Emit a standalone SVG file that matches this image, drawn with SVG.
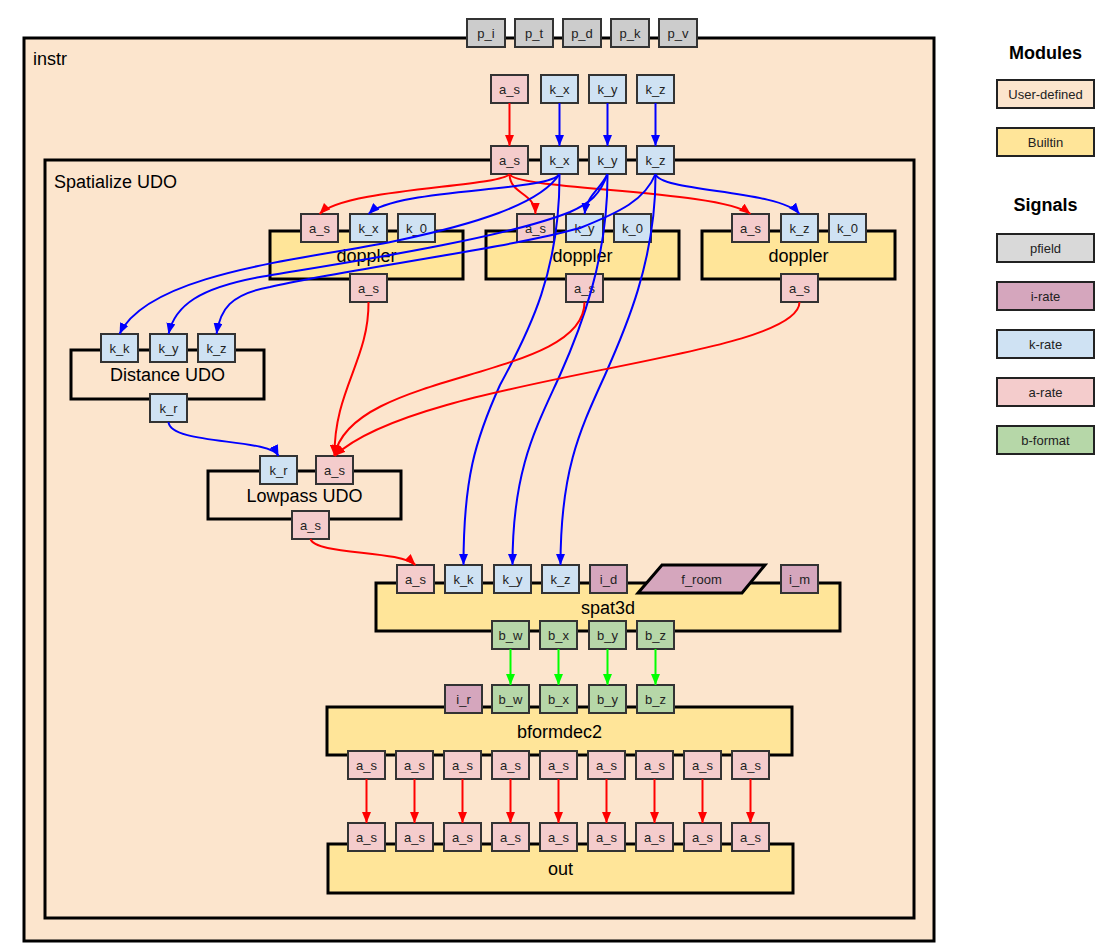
<svg xmlns="http://www.w3.org/2000/svg" width="1120" height="943" viewBox="0 0 1120 943">
  <style>
    .udo{fill:#fce5cd;stroke:#000;stroke-width:3}
    .mod{fill:#ffe599;stroke:#000;stroke-width:3}
    .port{stroke:#333;stroke-width:2}
    .p{fill:#cccccc}.i{fill:#d5a6bd}.k{fill:#cfe2f3}.a{fill:#f4cccc}.b{fill:#b6d7a8}
    .pl{font-family:"Liberation Sans",Arial,sans-serif;font-size:13px;text-anchor:middle;fill:#222}
    .ml{font-family:"Liberation Sans",Arial,sans-serif;font-size:18px;text-anchor:middle;fill:#000}
    .tl{font-family:"Liberation Sans",Arial,sans-serif;font-size:18px;fill:#000}
    .lh{font-family:"Liberation Sans",Arial,sans-serif;font-size:18px;font-weight:bold;text-anchor:middle;fill:#000}
    .lg{stroke:#222;stroke-width:2}
    .e{fill:none;stroke-width:2}
    .r{stroke:#ff0000}.bl{stroke:#0000ff}.g{stroke:#00ff00}
  </style>
  <defs>
    <marker id="ar" markerUnits="userSpaceOnUse" markerWidth="12" markerHeight="9" refX="11" refY="4.5" orient="auto">
      <path d="M0,0 L11,4.5 L0,9 z" fill="#ff0000"/>
    </marker>
    <marker id="ab" markerUnits="userSpaceOnUse" markerWidth="12" markerHeight="9" refX="11" refY="4.5" orient="auto">
      <path d="M0,0 L11,4.5 L0,9 z" fill="#0000ff"/>
    </marker>
    <marker id="ag" markerUnits="userSpaceOnUse" markerWidth="12" markerHeight="9" refX="11" refY="4.5" orient="auto">
      <path d="M0,0 L11,4.5 L0,9 z" fill="#00ff00"/>
    </marker>
  </defs>

  <!-- instrument container with its pfields and inputs -->
  <g id="instr">
    <rect class="udo" x="24" y="38" width="910" height="903"/>
    <text class="tl" x="33" y="65">instr</text>
    <rect class="port p" x="467" y="19" width="38" height="28"/><text class="pl" x="486" y="37.5">p_i</text>
    <rect class="port p" x="515" y="19" width="38" height="28"/><text class="pl" x="534" y="37.5">p_t</text>
    <rect class="port p" x="563" y="19" width="38" height="28"/><text class="pl" x="582" y="37.5">p_d</text>
    <rect class="port p" x="611" y="19" width="38" height="28"/><text class="pl" x="630" y="37.5">p_k</text>
    <rect class="port p" x="659" y="19" width="38" height="28"/><text class="pl" x="678" y="37.5">p_v</text>
  </g>
  <g id="instr-inputs">
    <rect class="port a" x="491" y="75" width="37" height="28"/><text class="pl" x="509.5" y="93.5">a_s</text>
    <rect class="port k" x="541" y="75" width="37" height="28"/><text class="pl" x="559.5" y="93.5">k_x</text>
    <rect class="port k" x="589" y="75" width="37" height="28"/><text class="pl" x="607.5" y="93.5">k_y</text>
    <rect class="port k" x="637" y="75" width="37" height="28"/><text class="pl" x="655.5" y="93.5">k_z</text>
  </g>

  <!-- Spatialize UDO container -->
  <g id="spatialize">
    <rect class="udo" x="45" y="160" width="869" height="758"/>
    <text class="tl" x="54" y="188">Spatialize UDO</text>
    <rect class="port a" x="491" y="146" width="37" height="28"/><text class="pl" x="509.5" y="164.5">a_s</text>
    <rect class="port k" x="541" y="146" width="37" height="28"/><text class="pl" x="559.5" y="164.5">k_x</text>
    <rect class="port k" x="589" y="146" width="37" height="28"/><text class="pl" x="607.5" y="164.5">k_y</text>
    <rect class="port k" x="637" y="146" width="37" height="28"/><text class="pl" x="655.5" y="164.5">k_z</text>
  </g>

  <g id="doppler1">
    <rect class="mod" x="270" y="231" width="193" height="48"/>
    <text class="ml" x="366.5" y="261.5">doppler</text>
    <rect class="port a" x="301" y="214" width="37" height="28"/><text class="pl" x="319.5" y="232.5">a_s</text>
    <rect class="port k" x="350" y="214" width="37" height="28"/><text class="pl" x="368.5" y="232.5">k_x</text>
    <rect class="port k" x="398" y="214" width="37" height="28"/><text class="pl" x="416.5" y="232.5">k_0</text>
    <rect class="port a" x="350" y="274" width="37" height="28"/><text class="pl" x="368.5" y="292.5">a_s</text>
  </g>
  <g id="doppler2">
    <rect class="mod" x="486" y="231" width="193" height="48"/>
    <text class="ml" x="582.5" y="261.5">doppler</text>
    <rect class="port a" x="517" y="214" width="37" height="28"/><text class="pl" x="535.5" y="232.5">a_s</text>
    <rect class="port k" x="566" y="214" width="37" height="28"/><text class="pl" x="584.5" y="232.5">k_y</text>
    <rect class="port k" x="614" y="214" width="37" height="28"/><text class="pl" x="632.5" y="232.5">k_0</text>
    <rect class="port a" x="566" y="274" width="37" height="28"/><text class="pl" x="584.5" y="292.5">a_s</text>
  </g>
  <g id="doppler3">
    <rect class="mod" x="702" y="231" width="193" height="48"/>
    <text class="ml" x="798.5" y="261.5">doppler</text>
    <rect class="port a" x="732" y="214" width="37" height="28"/><text class="pl" x="750.5" y="232.5">a_s</text>
    <rect class="port k" x="781" y="214" width="37" height="28"/><text class="pl" x="799.5" y="232.5">k_z</text>
    <rect class="port k" x="829" y="214" width="37" height="28"/><text class="pl" x="847.5" y="232.5">k_0</text>
    <rect class="port a" x="781" y="274" width="37" height="28"/><text class="pl" x="799.5" y="292.5">a_s</text>
  </g>

  <g id="distance">
    <rect class="udo" x="71" y="350" width="193" height="49"/>
    <text class="ml" x="167.5" y="381">Distance UDO</text>
    <rect class="port k" x="101" y="334" width="37" height="28"/><text class="pl" x="119.5" y="352.5">k_k</text>
    <rect class="port k" x="150" y="334" width="37" height="28"/><text class="pl" x="168.5" y="352.5">k_y</text>
    <rect class="port k" x="198" y="334" width="37" height="28"/><text class="pl" x="216.5" y="352.5">k_z</text>
    <rect class="port k" x="150" y="394" width="37" height="28"/><text class="pl" x="168.5" y="412.5">k_r</text>
  </g>

  <g id="lowpass">
    <rect class="udo" x="208" y="471" width="193" height="48"/>
    <text class="ml" x="304.5" y="502">Lowpass UDO</text>
    <rect class="port k" x="260" y="456" width="37" height="28"/><text class="pl" x="278.5" y="474.5">k_r</text>
    <rect class="port a" x="316" y="456" width="37" height="28"/><text class="pl" x="334.5" y="474.5">a_s</text>
    <rect class="port a" x="292" y="511" width="37" height="28"/><text class="pl" x="310.5" y="529.5">a_s</text>
  </g>

  <g id="spat3d">
    <rect class="mod" x="376" y="583" width="464" height="48"/>
    <text class="ml" x="608" y="613.5">spat3d</text>
    <rect class="port a" x="397" y="565" width="37" height="28"/><text class="pl" x="415.5" y="583.5">a_s</text>
    <rect class="port k" x="445" y="565" width="37" height="28"/><text class="pl" x="463.5" y="583.5">k_k</text>
    <rect class="port k" x="494" y="565" width="37" height="28"/><text class="pl" x="512.5" y="583.5">k_y</text>
    <rect class="port k" x="542" y="565" width="37" height="28"/><text class="pl" x="560.5" y="583.5">k_z</text>
    <rect class="port i" x="590" y="565" width="37" height="28"/><text class="pl" x="608.5" y="583.5">i_d</text>
    <polygon points="638,593 662,565 765,565 742,593" fill="#d5a6bd" stroke="#000" stroke-width="3"/>
    <text class="pl" x="701.5" y="583.5">f_room</text>
    <rect class="port i" x="781" y="565" width="37" height="28"/><text class="pl" x="799.5" y="583.5">i_m</text>
    <rect class="port b" x="492" y="621" width="37" height="28"/><text class="pl" x="510.5" y="639.5">b_w</text>
    <rect class="port b" x="540" y="621" width="37" height="28"/><text class="pl" x="558.5" y="639.5">b_x</text>
    <rect class="port b" x="589" y="621" width="37" height="28"/><text class="pl" x="607.5" y="639.5">b_y</text>
    <rect class="port b" x="637" y="621" width="37" height="28"/><text class="pl" x="655.5" y="639.5">b_z</text>
  </g>

  <g id="bformdec2">
    <rect class="mod" x="327" y="707" width="465" height="48"/>
    <text class="ml" x="559.5" y="737.5">bformdec2</text>
    <rect class="port i" x="445" y="685" width="37" height="28"/><text class="pl" x="463.5" y="703.5">i_r</text>
    <rect class="port b" x="492" y="685" width="37" height="28"/><text class="pl" x="510.5" y="703.5">b_w</text>
    <rect class="port b" x="540" y="685" width="37" height="28"/><text class="pl" x="558.5" y="703.5">b_x</text>
    <rect class="port b" x="589" y="685" width="37" height="28"/><text class="pl" x="607.5" y="703.5">b_y</text>
    <rect class="port b" x="637" y="685" width="37" height="28"/><text class="pl" x="655.5" y="703.5">b_z</text>
    <rect class="port a" x="348" y="751" width="37" height="28"/><text class="pl" x="366.5" y="769.5">a_s</text>
    <rect class="port a" x="396" y="751" width="37" height="28"/><text class="pl" x="414.5" y="769.5">a_s</text>
    <rect class="port a" x="444" y="751" width="37" height="28"/><text class="pl" x="462.5" y="769.5">a_s</text>
    <rect class="port a" x="492" y="751" width="37" height="28"/><text class="pl" x="510.5" y="769.5">a_s</text>
    <rect class="port a" x="540" y="751" width="37" height="28"/><text class="pl" x="558.5" y="769.5">a_s</text>
    <rect class="port a" x="588" y="751" width="37" height="28"/><text class="pl" x="606.5" y="769.5">a_s</text>
    <rect class="port a" x="636" y="751" width="37" height="28"/><text class="pl" x="654.5" y="769.5">a_s</text>
    <rect class="port a" x="684" y="751" width="37" height="28"/><text class="pl" x="702.5" y="769.5">a_s</text>
    <rect class="port a" x="732" y="751" width="37" height="28"/><text class="pl" x="750.5" y="769.5">a_s</text>
  </g>

  <g id="out">
    <rect class="mod" x="328" y="844" width="465" height="49"/>
    <text class="ml" x="560.5" y="875">out</text>
    <rect class="port a" x="348" y="823" width="37" height="28"/><text class="pl" x="366.5" y="841.5">a_s</text>
    <rect class="port a" x="396" y="823" width="37" height="28"/><text class="pl" x="414.5" y="841.5">a_s</text>
    <rect class="port a" x="444" y="823" width="37" height="28"/><text class="pl" x="462.5" y="841.5">a_s</text>
    <rect class="port a" x="492" y="823" width="37" height="28"/><text class="pl" x="510.5" y="841.5">a_s</text>
    <rect class="port a" x="540" y="823" width="37" height="28"/><text class="pl" x="558.5" y="841.5">a_s</text>
    <rect class="port a" x="588" y="823" width="37" height="28"/><text class="pl" x="606.5" y="841.5">a_s</text>
    <rect class="port a" x="636" y="823" width="37" height="28"/><text class="pl" x="654.5" y="841.5">a_s</text>
    <rect class="port a" x="684" y="823" width="37" height="28"/><text class="pl" x="702.5" y="841.5">a_s</text>
    <rect class="port a" x="732" y="823" width="37" height="28"/><text class="pl" x="750.5" y="841.5">a_s</text>
  </g>

  <!-- signal connections -->
  <g id="connectors">
    <!-- instr inputs into the UDO -->
    <path class="e r" marker-end="url(#ar)" d="M509.5,103 L509.5,146"/>
    <path class="e bl" marker-end="url(#ab)" d="M559.5,103 L559.5,146"/>
    <path class="e bl" marker-end="url(#ab)" d="M607.5,103 L607.5,146"/>
    <path class="e bl" marker-end="url(#ab)" d="M655.5,103 L655.5,146"/>

    <!-- audio into the doppler stages -->
    <path class="e r" marker-end="url(#ar)" d="M509.5,174 C500,187 345,188 319.5,214"/>
    <path class="e r" marker-end="url(#ar)" d="M509.5,174 C510,195 535,192 535.5,214"/>
    <path class="e r" marker-end="url(#ar)" d="M509.5,174 C515,190 720,190 750.5,214"/>

    <!-- coordinates into the doppler stages -->
    <path class="e bl" marker-end="url(#ab)" d="M559.5,174 C550,192 395,188 368.5,214"/>
    <path class="e bl" marker-end="url(#ab)" d="M607.5,174 C600,190 587,195 584.5,214"/>
    <path class="e bl" marker-end="url(#ab)" d="M655.5,174 C660,192 780,190 799.5,214"/>

    <!-- coordinates into the distance UDO -->
    <path class="e bl" marker-end="url(#ab)" d="M559.5,174 C540,205 470,225 400,240 C320,258 150,270 119.5,334"/>
    <path class="e bl" marker-end="url(#ab)" d="M607.5,174 C600,195 590,203 570,212 C500,240 330,265 260,277 C200,288 175,305 168.5,334"/>
    <path class="e bl" marker-end="url(#ab)" d="M655.5,174 C645,200 620,212 580,228 C500,250 340,270 270,287 C230,294 220,310 216.5,334"/>

    <!-- coordinates into spat3d -->
    <path class="e bl" marker-end="url(#ab)" d="M559.5,174 C560,270 530,330 500,385 C475,440 463.5,480 463.5,565"/>
    <path class="e bl" marker-end="url(#ab)" d="M607.5,174 C608,260 580,330 560,375 C535,430 512.5,470 512.5,565"/>
    <path class="e bl" marker-end="url(#ab)" d="M655.5,174 C656,260 625,330 605,375 C580,430 560.5,470 560.5,565"/>

    <!-- doppler outputs summed into the lowpass -->
    <path class="e r" marker-end="url(#ar)" d="M368.5,302 C369,360 334,390 334.5,456"/>
    <path class="e r" marker-end="url(#ar)" d="M584.5,302 C585,380 350,370 334.5,456"/>
    <path class="e r" marker-end="url(#ar)" d="M799.5,302 C800,360 420,375 334.5,456"/>

    <!-- distance to lowpass, lowpass to spat3d -->
    <path class="e bl" marker-end="url(#ab)" d="M168.5,422 C170,445 270,438 278.5,456"/>
    <path class="e r" marker-end="url(#ar)" d="M310.5,539 C315,555 400,550 415.5,565"/>

    <!-- b-format bus -->
    <path class="e g" marker-end="url(#ag)" d="M510.5,649 L510.5,685"/>
    <path class="e g" marker-end="url(#ag)" d="M558.5,649 L558.5,685"/>
    <path class="e g" marker-end="url(#ag)" d="M607.5,649 L607.5,685"/>
    <path class="e g" marker-end="url(#ag)" d="M655.5,649 L655.5,685"/>

    <!-- decoded speaker feeds -->
    <path class="e r" marker-end="url(#ar)" d="M366.5,779 L366.5,823"/>
    <path class="e r" marker-end="url(#ar)" d="M414.5,779 L414.5,823"/>
    <path class="e r" marker-end="url(#ar)" d="M462.5,779 L462.5,823"/>
    <path class="e r" marker-end="url(#ar)" d="M510.5,779 L510.5,823"/>
    <path class="e r" marker-end="url(#ar)" d="M558.5,779 L558.5,823"/>
    <path class="e r" marker-end="url(#ar)" d="M606.5,779 L606.5,823"/>
    <path class="e r" marker-end="url(#ar)" d="M654.5,779 L654.5,823"/>
    <path class="e r" marker-end="url(#ar)" d="M702.5,779 L702.5,823"/>
    <path class="e r" marker-end="url(#ar)" d="M750.5,779 L750.5,823"/>
  </g>

  <!-- legend -->
  <g id="legend">
    <text class="lh" x="1045.5" y="59">Modules</text>
    <rect class="lg" x="997" y="80" width="97" height="28" fill="#fce5cd"/><text class="pl" x="1045.5" y="98.5">User-defined</text>
    <rect class="lg" x="997" y="128" width="97" height="28" fill="#ffe599"/><text class="pl" x="1045.5" y="146.5">Builtin</text>
    <text class="lh" x="1045.5" y="211">Signals</text>
    <rect class="lg" x="997" y="234" width="97" height="28" fill="#d9d9d9"/><text class="pl" x="1045.5" y="252.5">pfield</text>
    <rect class="lg" x="997" y="282" width="97" height="28" fill="#d5a6bd"/><text class="pl" x="1045.5" y="300.5">i-rate</text>
    <rect class="lg" x="997" y="330" width="97" height="28" fill="#cfe2f3"/><text class="pl" x="1045.5" y="348.5">k-rate</text>
    <rect class="lg" x="997" y="378" width="97" height="28" fill="#f4cccc"/><text class="pl" x="1045.5" y="396.5">a-rate</text>
    <rect class="lg" x="997" y="426" width="97" height="28" fill="#b6d7a8"/><text class="pl" x="1045.5" y="444.5">b-format</text>
  </g>
</svg>
